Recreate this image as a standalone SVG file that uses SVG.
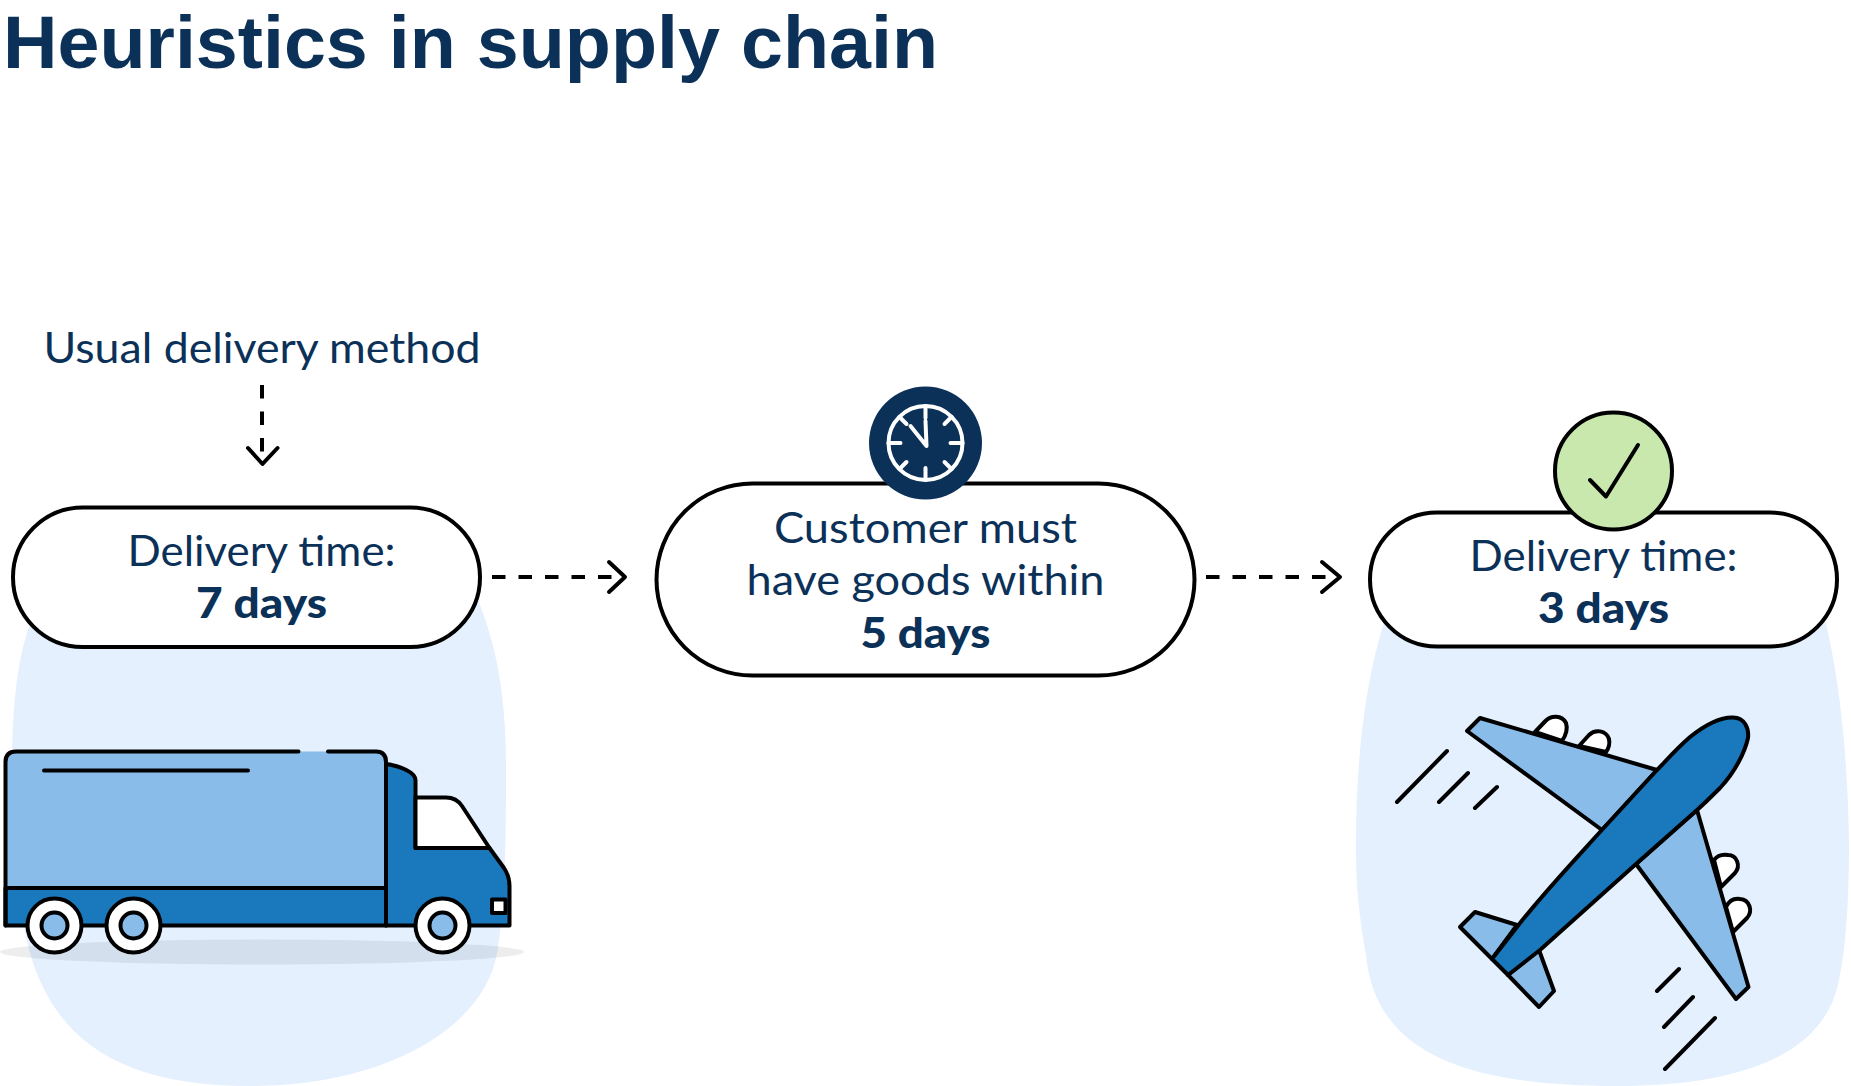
<svg xmlns="http://www.w3.org/2000/svg" width="1851" height="1086" viewBox="0 0 1851 1086">
<defs>
<style>
.t{font-family:"Lato","Liberation Sans",sans-serif;font-size:42px;fill:#0b3158;text-anchor:middle;font-weight:400}
.b{font-family:"Lato","Liberation Sans",sans-serif;font-size:42px;fill:#0b3158;text-anchor:middle;font-weight:900}
.pill{fill:#fff;stroke:#000;stroke-width:4}
.ln{fill:none;stroke:#000;stroke-width:4;stroke-linecap:round;stroke-linejoin:round}
.s{stroke:#000;stroke-width:4;stroke-linejoin:round;stroke-linecap:round}
.dash{stroke-dasharray:13.5 13;stroke-linecap:butt}
.lt{fill:#8abcea}.dk{fill:#1a78bd}.wh{fill:#fff}
</style>
</defs>
<rect width="1851" height="1086" fill="#fff"/>
<text id="title" x="3" y="68" font-family="'Liberation Sans',Arial,sans-serif" font-size="75" font-weight="700" fill="#0b3158" textLength="935" lengthAdjust="spacingAndGlyphs">Heuristics in supply chain</text>
<text id="usual-label" class="t" x="262" y="363" textLength="437" lengthAdjust="spacingAndGlyphs">Usual delivery method</text>
<g id="truck-scene">
<path d="M250 1086C120 1086 55 1040 30 953C20 918 12 845 12 770C12 690 20 640 40 600L478 600C498 650 506 700 506 770C506 840 505 905 497 953C485 1025 390 1086 250 1086Z" fill="#e4f0fe"/>
<ellipse cx="262" cy="952" rx="262" ry="12.500" fill="#000" opacity=".07"/>
<path class="dk s" d="M386 764C400 766 415 772 415.500 780V848H489.500L504 868C508 874 509.500 880 509.500 886V925.500H386Z"/>
<path class="wh s" d="M415.500 797.500H446C453 797.500 458 800 462 806L489.500 848H415.500Z"/>
<path class="lt" d="M5.500 762Q5.500 751.500 16 751.500H376Q386 751.500 386 762V888H5.500Z"/>
<path class="dk s" d="M5.500 888H386V925.500H5.500Z"/>
<path class="ln" d="M298.500 751.500H16Q5.500 751.500 5.500 762V925.500M328 751.500H376Q386 751.500 386 762V925.500M44 770.500H248"/>
<rect class="wh s" x="492" y="899.500" width="13.500" height="13.500"/>
<g id="wheels">
<circle class="wh s" cx="54.500" cy="925.500" r="27"/><circle class="lt s" cx="54.500" cy="925.500" r="13"/>
<circle class="wh s" cx="133.500" cy="925.500" r="27"/><circle class="lt s" cx="133.500" cy="925.500" r="13"/>
<circle class="wh s" cx="442.500" cy="925.500" r="27"/><circle class="lt s" cx="442.500" cy="925.500" r="13"/>
</g>
</g>
<g id="plane-scene">
<path d="M1617 1086C1450 1086 1375 1045 1366 955C1358 910 1356 880 1356 845C1356 760 1365 680 1385 620L1825 620C1840 680 1848 760 1849 845C1849 900 1846 950 1838 985C1820 1060 1730 1086 1617 1086Z" fill="#e4f0fe"/>
<g id="engines">
<path class="wh s" d="M1535 732L1545 721.500C1551 715 1562 715 1566 723C1568 729 1566 735 1562 741Z"/>
<path class="wh s" d="M1579 746L1589 735C1595 729 1606 730 1609 739C1610 744 1609 748 1606 752Z"/>
<path class="wh s" d="M1721 887L1735 873C1741 866 1737 855 1728 855C1722 854 1717 856 1714 860Z"/>
<path class="wh s" d="M1733 932L1747 918C1753 911 1750 900 1740 899C1734 898 1729 901 1726 907Z"/>
</g>
<path class="lt s" d="M1467 731L1480 718L1657 770L1602 830Z"/>
<path class="lt s" d="M1697 810L1748.500 987L1736 999L1636 864Z"/>
<path class="lt s" d="M1460 927L1475 912L1517 925L1492 959Z"/>
<path class="lt s" d="M1539 950L1554 991L1539 1007L1508 975Z"/>
<path class="dk s" d="M1492 959L1517 927C1540 897 1570 865 1600 832L1657 770C1665 762 1675 750 1690 737C1705 725 1720 717 1733 717.500C1745 718 1749 728 1748 738C1745 752 1735 772 1720 788C1712 796 1705 803 1697 810L1636 864L1540 950L1508 975Z"/>
<path class="ln" d="M1397 802L1447 751M1439 802L1468 773M1475 808L1497 787M1657 991L1679 969M1664 1027L1693 997M1665 1069L1715 1018"/>
</g>
<g id="connectors">
<path class="ln dash" d="M262 385V462"/><path class="ln" d="M248 448L262.500 464L277.500 448"/>
<path class="ln dash" d="M492 577H624"/><path class="ln" d="M609 562L625 577L609 592"/>
<path class="ln dash" d="M1206 577H1339"/><path class="ln" d="M1322 562L1340 577L1322 592"/>
</g>
<g id="node-usual">
<rect class="pill" x="13" y="507.500" width="467" height="139.500" rx="69.750"/>
<text class="t" x="261.500" y="565.500" textLength="268" lengthAdjust="spacingAndGlyphs">Delivery time:</text>
<text class="b" x="261.500" y="618" textLength="131" lengthAdjust="spacingAndGlyphs">7 days</text>
</g>
<g id="node-customer">
<rect class="pill" x="656.500" y="483.500" width="538" height="192" rx="96"/>
<g id="clock">
<circle cx="925.500" cy="443" r="56.500" fill="#0b3158"/>
<circle cx="925.500" cy="443" r="37" fill="none" stroke="#fff" stroke-width="4"/>
<path d="M925.500 406V418M925.500 468V480M888.500 443H900.500M950.500 443H962.500M899.500 417L906.500 424M951.500 417L944.500 424M899.500 469L906.500 462M951.500 469L944.500 462M925.500 421L926.500 446L910.500 426" fill="none" stroke="#fff" stroke-width="4" stroke-linecap="round" stroke-linejoin="round"/>
</g>
<text class="t" x="925.500" y="543" textLength="303" lengthAdjust="spacingAndGlyphs">Customer must</text>
<text class="t" x="925.500" y="595" textLength="358" lengthAdjust="spacingAndGlyphs">have goods within</text>
<text class="b" x="925.500" y="648" textLength="130" lengthAdjust="spacingAndGlyphs">5 days</text>
</g>
<g id="node-fast">
<rect class="pill" x="1370" y="512.500" width="467" height="134" rx="67"/>
<circle cx="1613.500" cy="471" r="58.500" fill="#c9e8ae" stroke="#000" stroke-width="4"/>
<path class="ln" d="M1590 480L1606 496.500L1638 445"/>
<text class="t" x="1603.500" y="571" textLength="268" lengthAdjust="spacingAndGlyphs">Delivery time:</text>
<text class="b" x="1603.500" y="622.500" textLength="131" lengthAdjust="spacingAndGlyphs">3 days</text>
</g>
</svg>
